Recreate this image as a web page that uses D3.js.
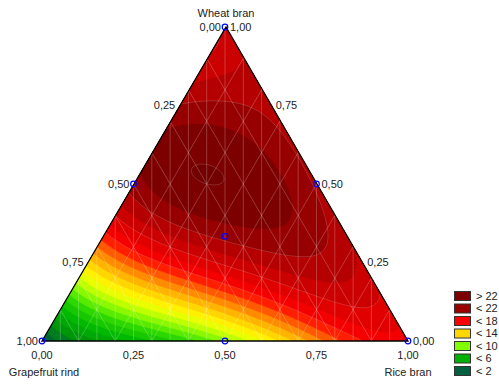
<!DOCTYPE html>
<html><head><meta charset="utf-8">
<script src="https://cdn.jsdelivr.net/npm/d3@7"></script>
<style>body{margin:0;background:#fff}svg{display:block}text{font-family:"Liberation Sans",Arial,sans-serif;font-size:11px;fill:#222}</style>
</head><body><svg id="c" width="499" height="387"></svg>
<script>
// Components: G = Grapefruit rind, R = Rice bran, W = Wheat bran
const componentNames = ["Grapefruit rind", "Rice bran", "Wheat bran"];
// Estimated fitted responses
const pureValues = [1, 18.5, 20.3];          // G, R, W
const binaryValues = [9.5, 22.5, 21.8];      // G-R, G-W, R-W (50:50 blends)
const binaryCubic = [-8, 5.9, 0];            // x*y*(x-y) terms along G-R, G-W, R-W edges
const binaryQuartic = [18, -37.4, 0];        // x*y*(x-y)^2 terms along G-R, G-W, R-W edges
const centroidValue = 22.3;                  // G=R=W=1/3
// design points [G, R, W]
const designPoints = [[1,0,0],[0,1,0],[0,0,1],[0.5,0.5,0],[0.5,0,0.5],[0,0.5,0.5],[1/3,1/3,1/3]];
const tickValues = [0, 0.25, 0.5, 0.75, 1];
const tickLabels = ["0,00", "0,25", "0,50", "0,75", "1,00"];
const legendLabels = ["> 22", "< 22", "< 18", "< 14", "< 10", "< 6", "< 2"];
const legendColors = ["#7c0000", "#9a0000", "#ff0000", "#ffd700", "#80ff00", "#00b000", "#005f3f"];
const colorStops = [0, 1.5, 3.5, 5.5, 7.5, 9, 10.5, 12, 14, 16, 17, 18, 20, 21.5, 22.5, 23.5, 25];
const colorRange = ["#00503a","#006432","#00960a","#00b900","#2dd700","#6ef500","#beff00","#ffff00","#ffc800","#ff7800","#ff3c00","#ff0000","#d70000","#b40000","#960000","#7d0000","#6e0000"];

const svg = d3.select("#c");
const A = [42, 341], B = [408, 341], C = [226, 27];
const xS = d3.scaleLinear().domain([0,1]).range([A[0], B[0]]);
const yS = d3.scaleLinear().domain([0,1]).range([A[1], C[1]]);
function proj(p){ return [xS(p[1] + p[2]/2), yS(p[2])]; }
const [b1,b2,b3] = pureValues;
const b12 = 4*binaryValues[0] - 2*(b1+b2);
const b13 = 4*binaryValues[1] - 2*(b1+b3);
const b23 = 4*binaryValues[2] - 2*(b2+b3);
const [d12,d13,d23] = binaryCubic;
const [e12,e13,e23] = binaryQuartic;
const b123 = 27*centroidValue - 9*(b1+b2+b3) - 3*(b12+b13+b23);
function f(g,r,w){
  return b1*g+b2*r+b3*w+b12*g*r+b13*g*w+b23*r*w+b123*g*r*w
    + d12*g*r*(g-r) + d13*g*w*(g-w) + d23*r*w*(r-w)
    + e12*g*r*(g-r)*(g-r) + e13*g*w*(g-w)*(g-w) + e23*r*w*(r-w)*(r-w);
}
const color = d3.scaleLinear().domain(colorStops).range(colorRange).clamp(true);

const x0 = 40, y0 = 25, nx = 372, ny = 320;
const vals = new Float64Array(nx*ny);
for (let j=0;j<ny;j++){
  for (let i=0;i<nx;i++){
    const px = x0 + i + 0.5, py = y0 + j + 0.5;
    let w = yS.invert(py);
    let r = xS.invert(px) - w/2;
    let g = 1 - r - w;
    w = Math.max(0,w); r = Math.max(0,r); g = Math.max(0,g);
    const s = g+r+w || 1;
    vals[j*nx+i] = f(g/s, r/s, w/s);
  }
}
const thresholds = d3.range(0, 30, 1);
const contours = d3.contours().size([nx, ny]).thresholds(thresholds)(vals);
const tri = [A,B,C];
svg.append("clipPath").attr("id","tri").append("path").attr("d", "M"+tri.map(p=>p.join(",")).join("L")+"Z");
const g0 = svg.append("g").attr("clip-path","url(#tri)");
g0.append("g").attr("transform",`translate(${x0},${y0})`)
  .selectAll("path").data(contours).join("path")
  .attr("d", d3.geoPath())
  .attr("fill", d => color(d.value + 0.5))
  .attr("stroke", d => color(d.value + 0.5)).attr("stroke-width", 0.3);

// mesh lines
const mesh = g0.append("g").attr("stroke","#fff").attr("stroke-opacity",0.28).attr("stroke-width",0.8).attr("fill","none");
d3.range(1,20).forEach(k => {
  const x = xS(k/20);
  mesh.append("line").attr("x1",x).attr("x2",x).attr("y1",A[1]).attr("y2",20);
});
d3.range(1,10).forEach(k => {
  const t = k/10;
  const p1 = proj([1-t,t,0]), p2 = proj([0,t,1-t]);
  mesh.append("line").attr("x1",p1[0]).attr("y1",p1[1]).attr("x2",p2[0]).attr("y2",p2[1]);
  const q1 = proj([t,1-t,0]), q2 = proj([t,0,1-t]);
  mesh.append("line").attr("x1",q1[0]).attr("y1",q1[1]).attr("x2",q2[0]).attr("y2",q2[1]);
});
g0.append("g").attr("transform",`translate(${x0},${y0})`)
  .selectAll("path").data(contours.filter(d => d.value % 2 === 0 && d.value >= 18)).join("path")
  .attr("d", d3.geoPath()).attr("fill","none").attr("stroke","#fff").attr("stroke-opacity",0.22).attr("stroke-width",0.8);

svg.append("path").attr("d","M"+tri.map(p=>p.join(",")).join("L")+"Z")
  .attr("fill","none").attr("stroke","#000").attr("stroke-width",1.3);

const lab = svg.append("g");
tickValues.forEach((t,i) => {
  const pl = proj([t,0,1-t]);
  lab.append("text").attr("x",pl[0]-4).attr("y",pl[1]).attr("dy","0.35em").attr("text-anchor","end").text(tickLabels[i]);
  const pr = proj([0,1-t,t]);
  lab.append("text").attr("x",pr[0]+5).attr("y",pr[1]).attr("dy","0.35em").text(tickLabels[i]);
  const pb = proj([1-t,t,0]);
  lab.append("text").attr("x",pb[0]).attr("y",pb[1]+14).attr("dy","0.35em").attr("text-anchor","middle").text(tickLabels[i]);
});
svg.append("text").attr("x",C[0]).attr("y",13).attr("dy","0.35em").attr("text-anchor","middle").text(componentNames[2]);
svg.append("text").attr("x",A[0]+2).attr("y",372).attr("dy","0.35em").attr("text-anchor","middle").text(componentNames[0]);
svg.append("text").attr("x",B[0]).attr("y",372).attr("dy","0.35em").attr("text-anchor","middle").text(componentNames[1]);

svg.append("g").selectAll("circle").data(designPoints).join("circle")
  .attr("cx", d => proj(d)[0]).attr("cy", d => proj(d)[1]).attr("r", 2.8)
  .attr("fill","none").attr("stroke","#0000ff").attr("stroke-width",1.2);

const lg = svg.append("g");
legendLabels.forEach((l,i) => {
  const y = 291 + i*12.5;
  lg.append("rect").attr("x",454.5).attr("y",y+0.5).attr("width",16).attr("height",9)
    .attr("fill",legendColors[i]).attr("stroke","#333").attr("stroke-width",1);
  lg.append("text").attr("x",476).attr("y",y+5).attr("dy","0.35em").text(l);
});
</script></body></html>
